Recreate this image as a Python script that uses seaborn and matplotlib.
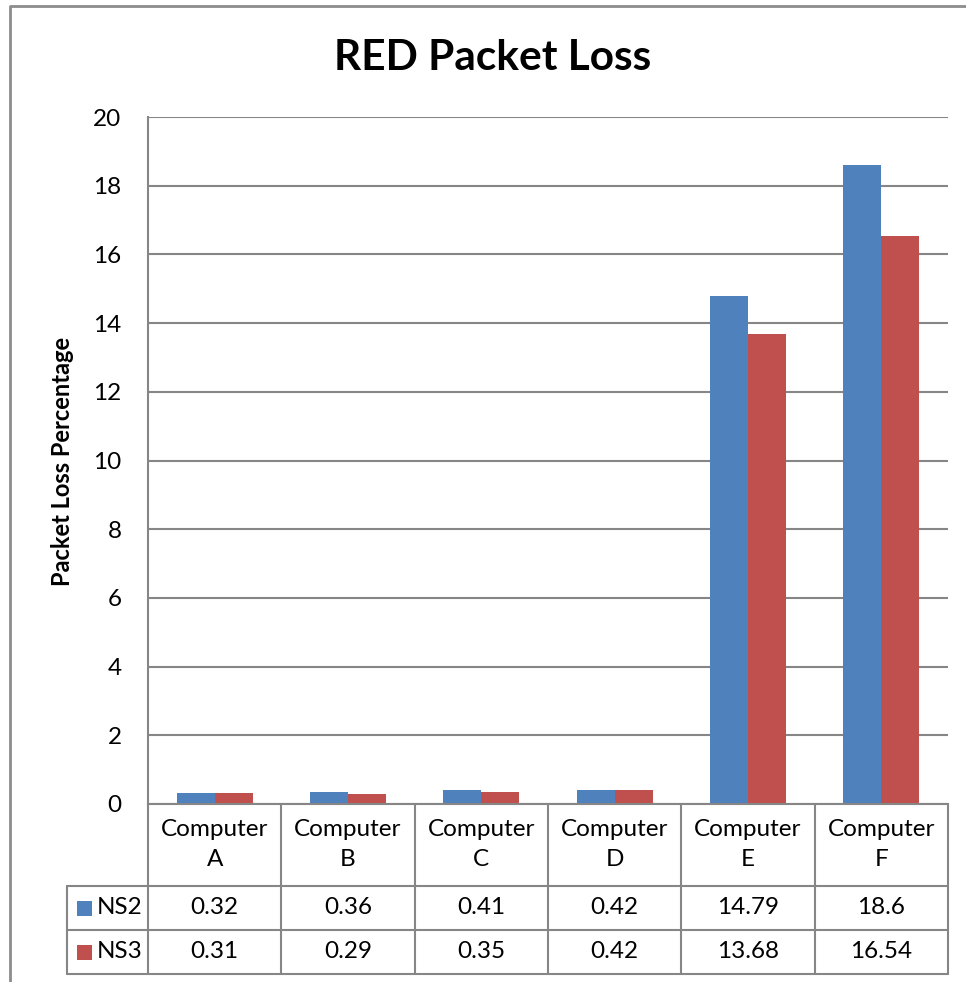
import matplotlib
matplotlib.use("Agg")
import matplotlib.pyplot as plt
import seaborn as sns
import pandas as pd
from matplotlib.lines import Line2D
from matplotlib.patches import Rectangle
from matplotlib.transforms import blended_transform_factory

# ---- data -------------------------------------------------------------
categories = ["Computer\nA", "Computer\nB", "Computer\nC",
              "Computer\nD", "Computer\nE", "Computer\nF"]
series_names = ["NS2", "NS3"]
ns2 = [0.32, 0.36, 0.41, 0.42, 14.79, 18.6]
ns3 = [0.31, 0.29, 0.35, 0.42, 13.68, 16.54]
ns2_labels = ["0.32", "0.36", "0.41", "0.42", "14.79", "18.6"]
ns3_labels = ["0.31", "0.29", "0.35", "0.42", "13.68", "16.54"]
y_ticks = [0, 2, 4, 6, 8, 10, 12, 14, 16, 18, 20]
colors = ["#4F81BD", "#C0504D"]
line_gray = "#868686"
fs = 17.5

sns.set_theme(style="white")
plt.rcParams["font.family"] = ["Lato", "DejaVu Sans"]

W, H = 966, 982
fig = plt.figure(figsize=(W / 100, H / 100), dpi=100)


def fx(px):
    return px / W


def fy(py):
    return 1 - py / H


ax = fig.add_axes([fx(148), fy(804), fx(948) - fx(148), fy(117) - fy(804)])

df = pd.DataFrame({
    "Computer": categories * 2,
    "Loss": ns2 + ns3,
    "Series": [series_names[0]] * len(ns2) + [series_names[1]] * len(ns3),
})
sns.barplot(data=df, x="Computer", y="Loss", hue="Series", palette=colors,
            width=0.57, errorbar=None, saturation=1, legend=False, ax=ax,
            edgecolor="none")

ax.set_xlim(-0.5, len(categories) - 0.5)
ax.set_ylim(y_ticks[0], y_ticks[-1])
ax.set_yticks(y_ticks)
ax.set_yticklabels([str(t) for t in y_ticks], fontsize=fs, color="black")
ax.tick_params(axis="y", length=0, pad=19)
ax.set_xticks([])
ax.set_xlabel("")
ax.set_ylabel("")
ax.yaxis.grid(True, color=line_gray, linewidth=1.5)
ax.set_axisbelow(True)
for side in ("top", "right"):
    ax.spines[side].set_visible(False)
for side in ("left", "bottom"):
    ax.spines[side].set_color(line_gray)
    ax.spines[side].set_linewidth(1.5)

# title and axis label
fig.text(fx(493), fy(58), "RED Packet Loss", ha="center", va="center",
         fontsize=30.5, fontweight="bold", color="black")
fig.text(fx(62), fy(461), "Packet Loss Percentage", ha="center", va="center",
         rotation=90, fontsize=17, fontweight="bold", color="black")

# ---- data table under the axes -----------------------------------------
bt = blended_transform_factory(ax.transData, fig.transFigure)
row_top, row_hdr, row_ns2, row_ns3 = 804, 886, 930, 974
n = len(categories)


def hline(x0px, x1px, ypx):
    fig.add_artist(Line2D([fx(x0px), fx(x1px)], [fy(ypx), fy(ypx)],
                          transform=fig.transFigure, color=line_gray, lw=1.5))


for i in range(n + 1):
    xb = i - 0.5
    fig.add_artist(Line2D([xb, xb], [fy(row_top), fy(row_ns3)], transform=bt,
                          color=line_gray, lw=1.5))
fig.add_artist(Line2D([fx(67), fx(67)], [fy(row_hdr), fy(row_ns3)],
                      transform=fig.transFigure, color=line_gray, lw=1.5))
for ypx in (row_hdr, row_ns2, row_ns3):
    hline(67, 948, ypx)

for i, cat in enumerate(categories):
    top_word, letter = cat.split("\n")
    fig.text(i, fy(829), top_word, transform=bt,
             ha="center", va="center", fontsize=fs, color="black")
    fig.text(i, fy(860), letter, transform=bt,
             ha="center", va="center", fontsize=fs, color="black")
    fig.text(i, fy((row_hdr + row_ns2) / 2), ns2_labels[i], transform=bt,
             ha="center", va="center", fontsize=fs, color="black")
    fig.text(i, fy((row_ns2 + row_ns3) / 2), ns3_labels[i], transform=bt,
             ha="center", va="center", fontsize=fs, color="black")

for name, col, (r0, r1) in zip(series_names, colors,
                               [(row_hdr, row_ns2), (row_ns2, row_ns3)]):
    yc = (r0 + r1) / 2
    fig.add_artist(Rectangle((fx(77), fy(yc + 7.5)), fx(15), 15 / H,
                             transform=fig.transFigure, facecolor=col,
                             edgecolor="none"))
    fig.text(fx(97), fy(yc), name, ha="left", va="center", fontsize=fs,
             color="black")

# chart frame
fig.add_artist(Line2D([fx(10), fx(10), fx(W)], [0, fy(6), fy(6)],
                      transform=fig.transFigure, color="#8C8C8C", lw=2))

fig.savefig("out.png", dpi=100)
